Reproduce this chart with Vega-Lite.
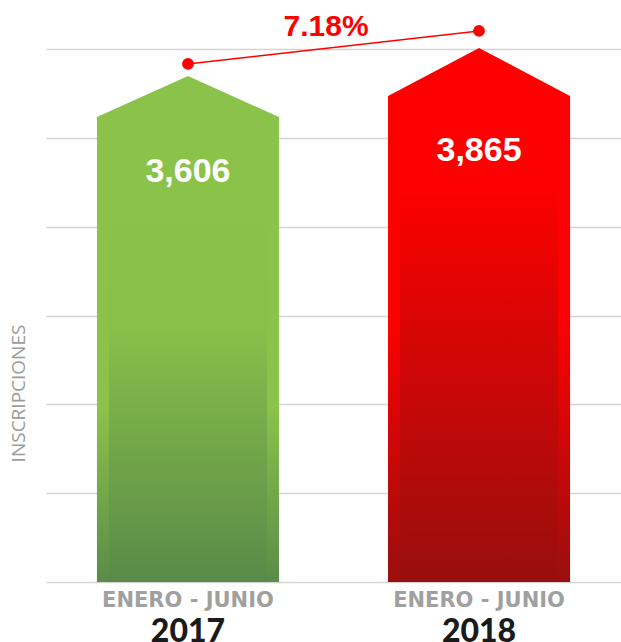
{
  "$schema": "https://vega.github.io/schema/vega-lite/v6.json",
  "autosize": "none",
  "padding": {"left": 46, "top": 49, "right": 0, "bottom": 60},
  "width": 575,
  "height": 533,
  "background": "white",
  "data": {
    "values": [
      {"year": "2017", "periodo": "ENERO - JUNIO", "inscripciones": 3606, "cambio": null},
      {"year": "2018", "periodo": "ENERO - JUNIO", "inscripciones": 3865, "cambio": "7.18%"}
    ]
  },
  "encoding": {
    "x": {
      "field": "year",
      "type": "nominal",
      "sort": ["2017", "2018"],
      "scale": {"paddingInner": 0.3746, "paddingOuter": 0.175},
      "axis": {
        "title": null,
        "domain": false,
        "ticks": false,
        "labelAngle": 0,
        "labelFont": "Lato",
        "labelFontSize": 32,
        "labelFontWeight": 900,
        "labelColor": "#1a1a1a",
        "labelPadding": 34
      }
    }
  },
  "layer": [
    {
      "encoding": {
        "y": {
          "field": "inscripciones",
          "type": "quantitative",
          "scale": {"type": "pow", "exponent": 0.6367, "domain": [0, 4468], "nice": false},
          "axis": {
            "title": "INSCRIPCIONES",
            "values": [0, 267.9, 795.6, 1504.2, 2363.5, 3355.6, 4468],
            "labels": false,
            "ticks": false,
            "domain": false,
            "grid": true,
            "gridColor": "#d4d4d4",
            "gridWidth": 1.3,
            "titleFont": "Open Sans",
            "titleFontSize": 19,
            "titleFontWeight": "normal",
            "titleColor": "#9c9c9c",
            "titleAngle": -90,
            "titleAlign": "center",
            "titleBaseline": "middle",
            "titleX": -28,
            "titleY": 344
          }
        }
      },
      "layer": [
        {
          "transform": [{"filter": "datum.year == '2017'"}],
          "mark": {
            "type": "bar",
            "fill": {
              "gradient": "linear", "x1": 0, "y1": 0, "x2": 0, "y2": 1,
              "stops": [
                {"offset": 0, "color": "#8bc34a"},
                {"offset": 0.62, "color": "#8bc34a"},
                {"offset": 1, "color": "#5b8c48"}
              ]
            }
          }
        },
        {
          "transform": [{"filter": "datum.year == '2017'"}],
          "mark": {
            "type": "bar",
            "width": {"band": 0.868},
            "fill": {
              "gradient": "linear", "x1": 0, "y1": 0, "x2": 0, "y2": 1,
              "stops": [
                {"offset": 0, "color": "#8bc34a"},
                {"offset": 0.45, "color": "#88c04a"},
                {"offset": 1, "color": "#5a8a48"}
              ]
            }
          }
        },
        {
          "transform": [{"filter": "datum.year == '2018'"}],
          "mark": {
            "type": "bar",
            "fill": {
              "gradient": "linear", "x1": 0, "y1": 0, "x2": 0, "y2": 1,
              "stops": [
                {"offset": 0, "color": "#ff0000"},
                {"offset": 0.45, "color": "#ff0000"},
                {"offset": 1, "color": "#9a0e0e"}
              ]
            }
          }
        },
        {
          "transform": [{"filter": "datum.year == '2018'"}],
          "mark": {
            "type": "bar",
            "width": {"band": 0.868},
            "fill": {
              "gradient": "linear", "x1": 0, "y1": 0, "x2": 0, "y2": 1,
              "stops": [
                {"offset": 0, "color": "#ff0000"},
                {"offset": 0.18, "color": "#fd0000"},
                {"offset": 1, "color": "#980e0e"}
              ]
            }
          }
        },
        {
          "mark": {"type": "point", "filled": true, "opacity": 1, "size": 33124, "strokeWidth": 0},
          "encoding": {
            "shape": {
              "field": "year",
              "type": "nominal",
              "scale": {
                "domain": ["2017", "2018"],
                "range": ["M-1,0.02L-1,0L0,-0.4505L1,0L1,0.02Z", "M-1,0.02L-1,0L0,-0.5275L1,0L1,0.02Z"]
              },
              "legend": null
            },
            "color": {
              "field": "year",
              "type": "nominal",
              "scale": {"domain": ["2017", "2018"], "range": ["#8bc34a", "#ff0000"]},
              "legend": null
            }
          }
        },
        {
          "mark": {
            "type": "text",
            "color": "white",
            "font": "Liberation Sans",
            "fontSize": 34,
            "fontWeight": "bold",
            "baseline": "middle",
            "dy": 55
          },
          "encoding": {
            "text": {"field": "inscripciones", "type": "quantitative", "format": ","}
          }
        },
        {
          "mark": {
            "type": "text",
            "color": "#a0a0a0",
            "font": "DejaVu Sans",
            "fontSize": 21,
            "fontWeight": "bold",
            "baseline": "middle",
            "dy": 19
          },
          "encoding": {
            "y": {"datum": 0},
            "text": {"field": "periodo", "type": "nominal"}
          }
        }
      ]
    },
    {
      "encoding": {
        "y": {
          "field": "inscripciones",
          "type": "quantitative",
          "scale": {"domain": [-460, 3723], "nice": false, "zero": false},
          "axis": null
        }
      },
      "layer": [
        {
          "mark": {"type": "line", "color": "#ff0000", "strokeWidth": 1.5}
        },
        {
          "mark": {"type": "point", "filled": true, "opacity": 1, "color": "#ff0000", "size": 140}
        },
        {
          "transform": [{"filter": "datum.cambio != null"}],
          "mark": {
            "type": "text",
            "color": "#ff0000",
            "font": "Liberation Sans",
            "fontSize": 30,
            "fontWeight": "bold",
            "baseline": "alphabetic",
            "dx": -153,
            "dy": 5
          },
          "encoding": {
            "text": {"field": "cambio", "type": "nominal"}
          }
        }
      ]
    }
  ],
  "resolve": {"scale": {"y": "independent"}},
  "config": {"view": {"stroke": null}}
}
